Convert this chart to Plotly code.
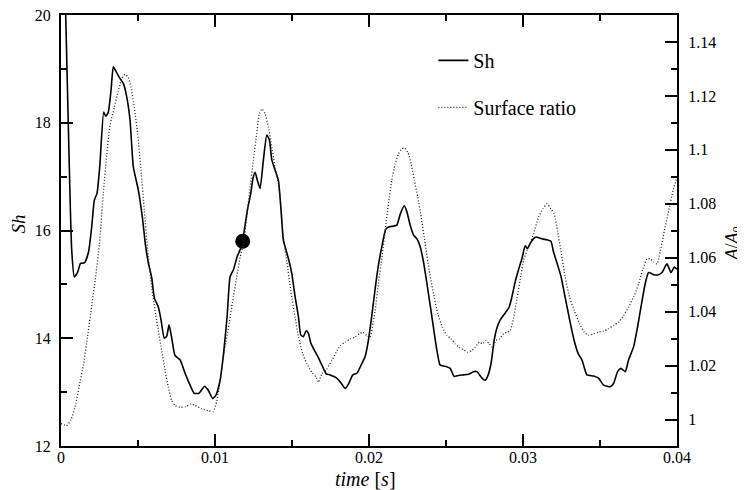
import plotly.graph_objects as go

# ---- data ----
sh_time = [0.0, 0.000305, 0.000487, 0.000695, 0.000864, 0.001085, 0.001267, 0.001527, 0.001787, 0.001995,
           0.002163, 0.002339, 0.002514, 0.002774, 0.002904, 0.003073, 0.003248, 0.003398, 0.003593, 0.003833,
           0.004047, 0.004268, 0.004483, 0.004697, 0.005022, 0.005282, 0.00549, 0.005672, 0.005893, 0.006061,
           0.006321, 0.006497, 0.006705, 0.006867, 0.007016, 0.007192, 0.007406, 0.007731, 0.008056, 0.008381,
           0.008641, 0.008965, 0.009323, 0.00957, 0.009856, 0.01007, 0.01033, 0.010557, 0.010785, 0.01098,
           0.011194, 0.011434, 0.01174, 0.011954, 0.012103, 0.012324, 0.012454, 0.012604, 0.012753, 0.012928,
           0.013143, 0.013364, 0.013533, 0.013689, 0.013903, 0.014117, 0.014273, 0.014442, 0.014767, 0.014988,
           0.015202, 0.015417, 0.015573, 0.015741, 0.015917, 0.016066, 0.016222, 0.016502, 0.016781, 0.017041,
           0.017216, 0.017476, 0.017866, 0.018126, 0.018451, 0.018665, 0.018951, 0.019211, 0.019535, 0.01975,
           0.019964, 0.020185, 0.0204, 0.020614, 0.020835, 0.021082, 0.021309, 0.021569, 0.021809, 0.022024,
           0.022284, 0.022459, 0.022673, 0.022888, 0.023128, 0.023323, 0.023518, 0.023759, 0.024083, 0.024408,
           0.024623, 0.024947, 0.025272, 0.025532, 0.025811, 0.026136, 0.026461, 0.026786, 0.027007, 0.027331,
           0.027546, 0.027741, 0.027936, 0.028131, 0.028326, 0.028521, 0.028845, 0.029105, 0.029281, 0.029495,
           0.02971, 0.029931, 0.030145, 0.030275, 0.03047, 0.030684, 0.03086, 0.031074, 0.031295, 0.031555,
           0.031814, 0.031984, 0.032204, 0.032464, 0.032743, 0.033023, 0.033328, 0.033608, 0.033828, 0.034153,
           0.034582, 0.034907, 0.035232, 0.035667, 0.035881, 0.036141, 0.036362, 0.036641, 0.036856, 0.037181,
           0.03744, 0.037661, 0.037941, 0.038155, 0.038481, 0.038805, 0.039026, 0.03935, 0.03961, 0.039825, 0.04]
sh_values = [23.0, 20.0, 17.8, 15.64, 15.14, 15.23, 15.39, 15.40, 15.6, 16.07,
             16.56, 16.69, 17.18, 18.20, 18.12, 18.2, 18.6, 19.04, 18.94, 18.82,
             18.73, 18.48, 18.05, 17.18, 16.75, 16.25, 15.72, 15.4, 15.12, 14.75,
             14.58, 14.34, 14.0, 14.04, 14.25, 14.0, 13.68, 13.60, 13.35, 13.13,
             12.98, 12.98, 13.11, 13.03, 12.88, 12.95, 13.22, 13.72, 14.40, 15.14,
             15.27, 15.51, 15.72, 16.1, 16.38, 16.69, 16.95, 17.08, 16.93, 16.78,
             17.31, 17.77, 17.68, 17.31, 17.12, 16.93, 16.44, 15.82, 15.48, 15.2,
             14.77, 14.40, 14.06, 14.03, 14.14, 14.09, 13.91, 13.75, 13.6, 13.44,
             13.34, 13.32, 13.27, 13.19, 13.07, 13.15, 13.32, 13.35, 13.53, 13.66,
             13.97, 14.43, 14.92, 15.36, 15.7, 16.02, 16.07, 16.08, 16.10, 16.30,
             16.46, 16.35, 16.1, 15.92, 15.84, 15.70, 15.45, 15.02, 14.40, 13.78,
             13.50, 13.48, 13.44, 13.29, 13.31, 13.32, 13.33, 13.38, 13.38, 13.26,
             13.22, 13.32, 13.55, 13.97, 14.21, 14.34, 14.47, 14.58, 14.77, 15.05,
             15.27, 15.48, 15.72, 15.66, 15.76, 15.85, 15.88, 15.86, 15.84, 15.83,
             15.80, 15.6, 15.4, 15.15, 14.75, 14.35, 13.95, 13.7, 13.6, 13.32,
             13.30, 13.26, 13.13, 13.10, 13.16, 13.38, 13.44, 13.38, 13.6, 13.84,
             14.21, 14.58, 15.02, 15.22, 15.18, 15.18, 15.22, 15.38, 15.22, 15.32, 15.28]

ratio_time = [0.0, 0.00037, 0.00065, 0.00091, 0.00117, 0.00145, 0.00173, 0.00199, 0.00225, 0.00249,
              0.00275, 0.00297, 0.00318, 0.00346, 0.00372, 0.00394, 0.00416, 0.00437, 0.00455, 0.00476,
              0.00498, 0.0052, 0.00541, 0.00563, 0.00589, 0.00611, 0.00632, 0.00654, 0.00676, 0.00697,
              0.00719, 0.00741, 0.00773, 0.0081, 0.00845, 0.00871, 0.00914, 0.00957, 0.00989, 0.01012,
              0.01033, 0.01054, 0.01077, 0.01098, 0.01119, 0.01141, 0.01163, 0.01184, 0.01206, 0.01228,
              0.01249, 0.01271, 0.01288, 0.01306, 0.01325, 0.01347, 0.01369, 0.0139, 0.01412, 0.01427,
              0.01444, 0.01466, 0.01492, 0.0152, 0.01542, 0.0157, 0.01596, 0.01629, 0.01657, 0.01672,
              0.01694, 0.01726, 0.01759, 0.01787, 0.01813, 0.01845, 0.01878, 0.0191, 0.01938, 0.0196,
              0.01986, 0.02007, 0.02027, 0.0204, 0.02061, 0.02084, 0.02105, 0.02126, 0.02148, 0.0217,
              0.02191, 0.02213, 0.0223, 0.02252, 0.02274, 0.02295, 0.02317, 0.02339, 0.02365, 0.02391,
              0.02419, 0.02447, 0.02477, 0.02506, 0.02534, 0.0256, 0.02586, 0.02614, 0.02642, 0.02668,
              0.0269, 0.02716, 0.02737, 0.02759, 0.02781, 0.02802, 0.02824, 0.02846, 0.02874, 0.02896,
              0.02917, 0.02938, 0.02961, 0.02982, 0.03003, 0.03026, 0.03047, 0.03068, 0.03101, 0.03129,
              0.03155, 0.03181, 0.03203, 0.03224, 0.03246, 0.03274, 0.03302, 0.03333, 0.03367, 0.03398,
              0.03426, 0.03458, 0.03491, 0.03523, 0.03556, 0.03588, 0.03621, 0.03653, 0.03686, 0.03718,
              0.03751, 0.03779, 0.03805, 0.03827, 0.03848, 0.0387, 0.03892, 0.03918, 0.03946, 0.03974, 0.04]
ratio_values = [0.9985, 0.9978, 1.0000, 1.0046, 1.012, 1.0200, 1.031, 1.042, 1.053, 1.065,
                1.084, 1.0984, 1.1089, 1.1157, 1.1219, 1.1263, 1.128, 1.1268, 1.1231, 1.1157,
                1.106, 1.0922, 1.0774, 1.0626, 1.049, 1.0404, 1.033, 1.0256, 1.0182, 1.012,
                1.007, 1.0052, 1.0046, 1.0048, 1.0058, 1.0052, 1.004, 1.0033, 1.0030, 1.007,
                1.0145, 1.0231, 1.0306, 1.038, 1.0454, 1.0528, 1.0602, 1.0652, 1.075, 1.0861,
                1.0961, 1.106, 1.1134, 1.1152, 1.1134, 1.1084, 1.101, 1.0936, 1.0874, 1.08,
                1.0676, 1.059, 1.0478, 1.038, 1.0306, 1.0244, 1.0207, 1.0175, 1.0157, 1.0138,
                1.017, 1.0188, 1.0219, 1.025, 1.0274, 1.0287, 1.0299, 1.0306, 1.0318, 1.0324,
                1.0311, 1.0305, 1.036, 1.0404, 1.0503, 1.0602, 1.07, 1.08, 1.0886, 1.0948,
                1.0985, 1.1004, 1.1007, 1.0991, 1.0948, 1.0886, 1.0825, 1.075, 1.0652, 1.0553,
                1.0466, 1.0392, 1.0342, 1.0312, 1.0299, 1.0281, 1.0268, 1.0259, 1.025, 1.0256,
                1.0268, 1.0287, 1.0281, 1.0293, 1.0281, 1.0268, 1.0293, 1.0299, 1.0318, 1.0324,
                1.033, 1.0375, 1.045, 1.052, 1.059, 1.0626, 1.0655, 1.0688, 1.075, 1.0781,
                1.08, 1.0781, 1.0762, 1.07, 1.0626, 1.0528, 1.0454, 1.0404, 1.0355, 1.0324,
                1.0312, 1.0318, 1.0324, 1.0328, 1.0337, 1.0349, 1.0361, 1.0386, 1.0417, 1.0454,
                1.0503, 1.0559, 1.0596, 1.0596, 1.0584, 1.0577, 1.0626, 1.07, 1.0774, 1.0849, 1.0898]

marker_time = [0.0118]
marker_sh = [15.8]

x_ticks = [0, 0.01, 0.02, 0.03, 0.04]
x_ticktext = ["0", "0.01", "0.02", "0.03", "0.04"]
sh_ticks = [12, 14, 16, 18, 20]
ratio_ticks = [1.0, 1.02, 1.04, 1.06, 1.08, 1.1, 1.12, 1.14]
ratio_ticktext = ["1", "1.02", "1.04", "1.06", "1.08", "1.1", "1.12", "1.14"]

FONT = "Times New Roman, Liberation Serif, Tinos, DejaVu Serif, serif"

fig = go.Figure()
fig.add_trace(go.Scatter(x=sh_time, y=sh_values, mode="lines", name="Sh",
                         line=dict(color="black", width=1.6, shape="spline", smoothing=0.5),
                         legendgroup="a"))
fig.add_trace(go.Scatter(x=ratio_time, y=ratio_values, mode="lines", name="Surface ratio",
                         line=dict(color="#222222", width=1.3, dash="1px,2px", shape="spline", smoothing=0.5),
                         yaxis="y2", legendgroup="b"))
fig.add_trace(go.Scatter(x=marker_time, y=marker_sh, mode="markers", showlegend=False,
                         marker=dict(color="black", size=15)))

axis_common = dict(ticks="inside", linecolor="black", linewidth=2, tickcolor="black",
                   tickwidth=1.5, ticklen=12, showgrid=False, zeroline=False, automargin=False,
                   ticklabeloverflow="allow",
                   tickfont=dict(family=FONT, size=16, color="black"))

# the page body adds an 8px offset, so the figure is 8px smaller and margins shifted
fig.update_layout(
    width=737, height=482,
    margin=dict(l=53, r=68, t=7, b=44, autoexpand=False),
    paper_bgcolor="white", plot_bgcolor="white",
    font=dict(family=FONT, color="black"),
    xaxis=dict(range=[0, 0.04], tickvals=x_ticks, ticktext=x_ticktext, mirror="ticks",
               minor=dict(dtick=0.005, ticklen=6, ticks="inside", tickcolor="black", tickwidth=1.5),
               ticklabelstandoff=-4, **axis_common),
    yaxis=dict(range=[12, 20], tickvals=sh_ticks,
               minor=dict(dtick=1, ticklen=6, ticks="inside", tickcolor="black", tickwidth=1.5),
               ticklabelstandoff=5, **axis_common),
    yaxis2=dict(range=[0.9902, 1.15], overlaying="y", side="right", tickvals=ratio_ticks,
                ticktext=ratio_ticktext,
                minor=dict(dtick=0.01, tick0=1.0, ticklen=6, ticks="inside", tickcolor="black", tickwidth=1.5),
                ticklabelstandoff=6, **axis_common),
    legend=dict(x=0.6045, y=0.94, xanchor="left", yanchor="top", bgcolor="rgba(0,0,0,0)",
                font=dict(family=FONT, size=20, color="black"), tracegroupgap=18),
    showlegend=True,
    annotations=[
        dict(text="<i>Sh</i>", x=-0.069, y=0.515, xref="paper", yref="paper", showarrow=False,
             xanchor="center", yanchor="middle",
             textangle=-90, font=dict(family=FONT, size=19, color="black")),
        dict(text="<i>time</i> [<i>s</i>]", x=0.495, y=-0.0766, xref="paper", yref="paper",
             xanchor="center", yanchor="middle",
             showarrow=False, font=dict(family=FONT, size=20, color="black")),
        dict(text="<i>A</i>/<i>A</i><sub>0</sub>", x=1.091, y=0.47, xref="paper", yref="paper",
             xanchor="center", yanchor="middle",
             showarrow=False, textangle=-90, font=dict(family=FONT, size=18, color="black")),
    ],
)

fig.write_html("out.html")
